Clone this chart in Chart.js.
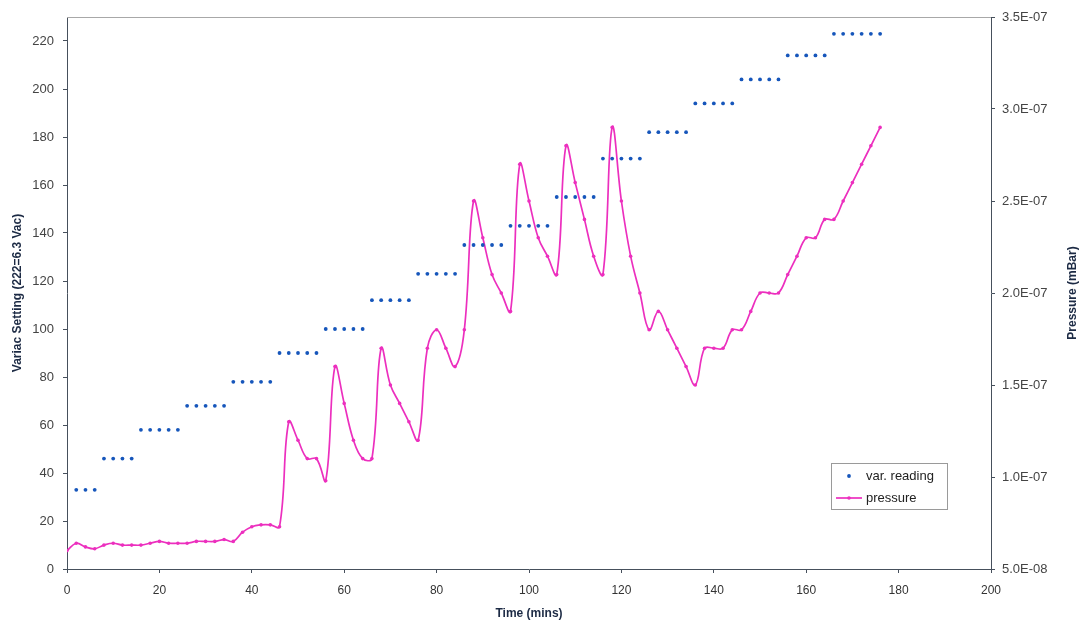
<!DOCTYPE html>
<html>
<head>
<meta charset="utf-8">
<script src="https://cdn.jsdelivr.net/npm/chart.js@4.4.1/dist/chart.umd.min.js"></script>
<style>
  html, body { margin: 0; padding: 0; background: #fff; }
  #wrap { width: 1085px; height: 628px; }
</style>
</head>
<body>
<div id="wrap"><canvas id="chart"></canvas></div>
<script>
// time of each reading (mins)
var minutes = [0, 2, 4, 6, 8, 10, 12, 14, 16, 18, 20, 22, 24, 26, 28, 30, 32, 34, 36, 38,
  40, 42, 44, 46, 48, 50, 52, 54, 56, 58, 60, 62, 64, 66, 68, 70, 72, 74, 76, 78,
  80, 82, 84, 86, 88, 90, 92, 94, 96, 98, 100, 102, 104, 106, 108, 110, 112, 114, 116, 118,
  120, 122, 124, 126, 128, 130, 132, 134, 136, 138, 140, 142, 144, 146, 148, 150, 152, 154, 156, 158,
  160, 162, 164, 166, 168, 170, 172, 174, 176];

// variac dial setting (222 = 6.3 Vac)
var variac = [null, 33, 33, 33, 46, 46, 46, 46, 58, 58, 58, 58, 58, 68, 68, 68, 68, 68, 78, 78,
  78, 78, 78, 90, 90, 90, 90, 90, 100, 100, 100, 100, 100, 112, 112, 112, 112, 112, 123, 123,
  123, 123, 123, 135, 135, 135, 135, 135, 143, 143, 143, 143, 143, 155, 155, 155, 155, 155, 171, 171,
  171, 171, 171, 182, 182, 182, 182, 182, 194, 194, 194, 194, 194, 204, 204, 204, 204, 204, 214, 214,
  214, 214, 214, 223, 223, 223, 223, 223, 223];

// chamber pressure (mBar)
var pressure = [6.0e-8, 6.4e-8, 6.2e-8, 6.1e-8, 6.3e-8, 6.4e-8, 6.3e-8, 6.3e-8, 6.3e-8, 6.4e-8,
  6.5e-8, 6.4e-8, 6.4e-8, 6.4e-8, 6.5e-8, 6.5e-8, 6.5e-8, 6.6e-8, 6.5e-8, 7.0e-8,
  7.3e-8, 7.4e-8, 7.4e-8, 7.3e-8, 1.3e-7, 1.2e-7, 1.1e-7, 1.1e-7, 9.8e-8, 1.6e-7,
  1.4e-7, 1.2e-7, 1.1e-7, 1.1e-7, 1.7e-7, 1.5e-7, 1.4e-7, 1.3e-7, 1.2e-7, 1.7e-7,
  1.8e-7, 1.7e-7, 1.6e-7, 1.8e-7, 2.5e-7, 2.3e-7, 2.1e-7, 2.0e-7, 1.9e-7, 2.7e-7,
  2.5e-7, 2.3e-7, 2.2e-7, 2.1e-7, 2.8e-7, 2.6e-7, 2.4e-7, 2.2e-7, 2.1e-7, 2.9e-7,
  2.5e-7, 2.2e-7, 2.0e-7, 1.8e-7, 1.9e-7, 1.8e-7, 1.7e-7, 1.6e-7, 1.5e-7, 1.7e-7,
  1.7e-7, 1.7e-7, 1.8e-7, 1.8e-7, 1.9e-7, 2.0e-7, 2.0e-7, 2.0e-7, 2.1e-7, 2.2e-7,
  2.3e-7, 2.3e-7, 2.4e-7, 2.4e-7, 2.5e-7, 2.6e-7, 2.7e-7, 2.8e-7, 2.9e-7];

var blue = '#1656bb';
var pink = '#ec2fbe';
var axisColor = '#46505c';
var titleColor = '#1c2a44';
var sans = '"Liberation Sans", Arial, sans-serif';
var narrow = '"Liberation Sans Narrow", "Arial Narrow", "Liberation Sans", sans-serif';

function pairs(xs, ys) {
  var out = [];
  for (var i = 0; i < xs.length; i++) {
    if (ys[i] !== null) out.push({x: xs[i], y: ys[i]});
  }
  return out;
}

// 3.5e-7 -> "3.5E-07"
function sci(v) {
  var parts = v.toExponential(1).split('e');
  var exp = parseInt(parts[1], 10);
  var sign = exp < 0 ? '-' : '+';
  exp = Math.abs(exp);
  return parts[0] + 'E' + sign + (exp < 10 ? '0' : '') + exp;
}

// frame line along the top of the plot area
var topFrame = {
  id: 'topFrame',
  beforeDatasetsDraw: function (chart) {
    var a = chart.chartArea, ctx = chart.ctx;
    ctx.save();
    ctx.strokeStyle = '#a8a8a8';
    ctx.lineWidth = 1;
    ctx.beginPath();
    ctx.moveTo(a.left, Math.round(a.top) + 0.5);
    ctx.lineTo(a.right, Math.round(a.top) + 0.5);
    ctx.stroke();
    ctx.restore();
  }
};

// right hand axis title, reading bottom to top like the left one
var rightTitle = {
  id: 'rightTitle',
  afterDraw: function (chart) {
    var s = chart.scales.y2, ctx = chart.ctx;
    ctx.save();
    ctx.translate(s.right - 12, (s.top + s.bottom) / 2);
    ctx.rotate(-Math.PI / 2);
    ctx.font = 'bold 12px ' + sans;
    ctx.fillStyle = titleColor;
    ctx.textAlign = 'center';
    ctx.textBaseline = 'middle';
    ctx.fillText(s.options.title.text, 0, 0);
    ctx.restore();
  }
};

// boxed legend sitting inside the plot, lower right
var boxLegend = {
  id: 'boxLegend',
  afterDraw: function (chart) {
    var a = chart.chartArea, ctx = chart.ctx;
    var x = Math.round(a.right - 160), y = Math.round(a.bottom - 106);
    var w = 116, h = 46;
    ctx.save();
    ctx.fillStyle = '#fff';
    ctx.fillRect(x, y, w, h);
    ctx.strokeStyle = '#9a9a9a';
    ctx.lineWidth = 1;
    ctx.strokeRect(x + 0.5, y + 0.5, w, h);
    ctx.font = '13px ' + sans;
    ctx.textBaseline = 'middle';
    chart.data.datasets.forEach(function (ds, i) {
      var cy = y + 13 + i * 22;
      if (ds.showLine !== false) {
        ctx.strokeStyle = ds.borderColor;
        ctx.lineWidth = ds.borderWidth;
        ctx.beginPath();
        ctx.moveTo(x + 5, cy);
        ctx.lineTo(x + 31, cy);
        ctx.stroke();
      }
      ctx.fillStyle = ds.pointBackgroundColor;
      ctx.beginPath();
      ctx.arc(x + 18, cy, ds.pointRadius, 0, Math.PI * 2);
      ctx.fill();
      ctx.fillStyle = '#222';
      ctx.fillText(ds.label, x + 35, cy);
    });
    ctx.restore();
  }
};

Chart.defaults.font.family = sans;

new Chart(document.getElementById('chart'), {
  type: 'line',
  data: {
    datasets: [{
      label: 'var. reading',
      data: pairs(minutes, variac),
      yAxisID: 'y',
      showLine: false,
      pointRadius: 1.9,
      pointBackgroundColor: blue,
      pointBorderWidth: 0,
      borderColor: blue
    }, {
      label: 'pressure',
      data: pairs(minutes, pressure),
      yAxisID: 'y2',
      borderColor: pink,
      borderWidth: 1.7,
      tension: 0.4,
      pointRadius: 1.8,
      pointBackgroundColor: pink,
      pointBorderWidth: 0
    }]
  },
  options: {
    responsive: true,
    maintainAspectRatio: false,
    animation: false,
    layout: {padding: {top: 17, left: 0, right: 0, bottom: 0}},
    plugins: {legend: {display: false}, tooltip: {enabled: false}},
    scales: {
      x: {
        type: 'linear',
        min: 0, max: 200,
        afterFit: function (s) { s.height = 59; },
        ticks: {stepSize: 20, padding: 10, color: '#333', font: {family: narrow, size: 12}},
        grid: {drawOnChartArea: false, tickLength: 4, color: axisColor},
        border: {color: axisColor, width: 1},
        title: {display: true, text: 'Time (mins)', color: titleColor,
          font: {family: narrow, size: 12, weight: 'bold'}, padding: {top: 4, bottom: 7}}
      },
      y: {
        position: 'left',
        min: 0, max: 230,
        afterFit: function (s) { s.width = 67; },
        afterBuildTicks: function (s) {
          s.ticks = s.ticks.filter(function (t) { return t.value <= 220; });
        },
        ticks: {stepSize: 20, maxTicksLimit: 20, padding: 9, color: '#444', font: {size: 13}},
        grid: {drawOnChartArea: false, tickLength: 4, color: axisColor},
        border: {color: axisColor, width: 1},
        title: {display: true, text: 'Variac Setting (222=6.3 Vac)', color: titleColor,
          font: {size: 12, weight: 'bold'}, padding: {top: 10, bottom: 4}}
      },
      y2: {
        position: 'right',
        min: 5e-8, max: 3.5e-7,
        afterFit: function (s) { s.width = 94; },
        ticks: {stepSize: 5e-8, padding: 7, color: '#444', font: {size: 13},
          callback: function (v) { return sci(v); }},
        grid: {drawOnChartArea: false, tickLength: 4, color: axisColor},
        border: {color: axisColor, width: 1},
        title: {display: false, text: 'Pressure (mBar)'}
      }
    }
  },
  plugins: [topFrame, rightTitle, boxLegend]
});
</script>
</body>
</html>
